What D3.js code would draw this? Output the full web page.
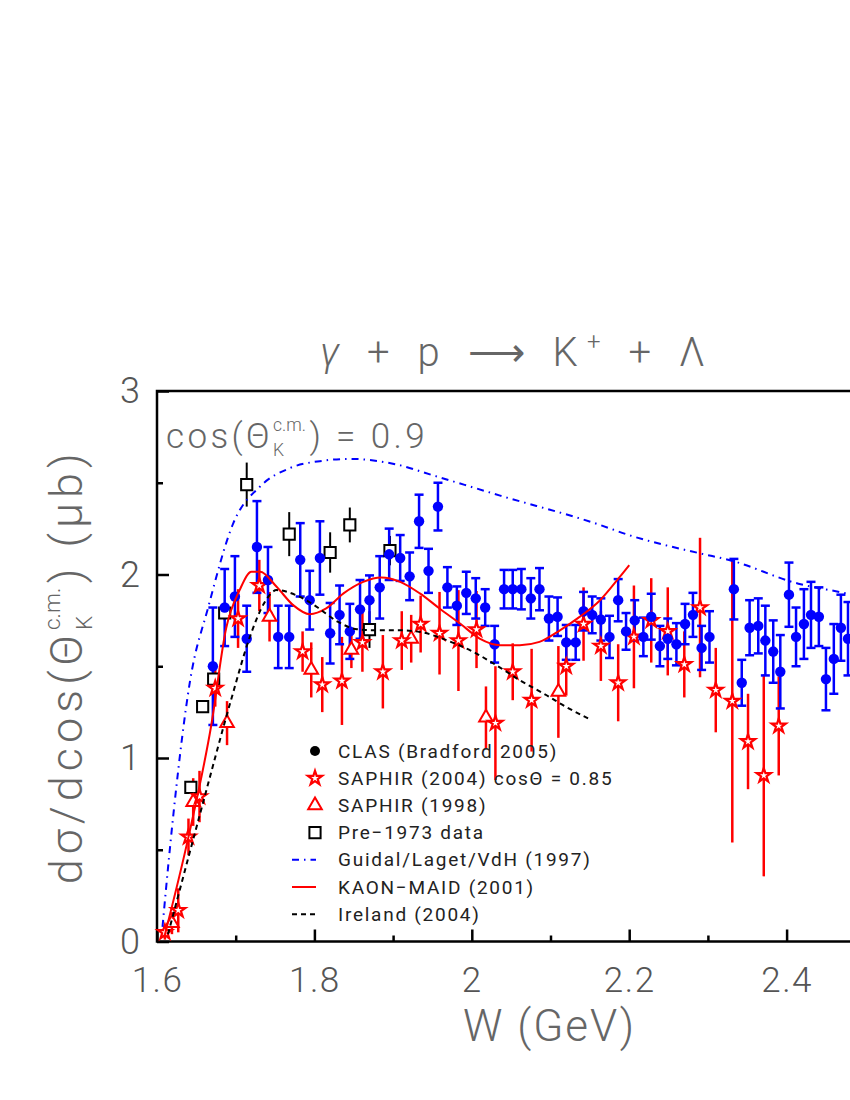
<!DOCTYPE html>
<html>
<head>
<meta charset="utf-8">
<script src="https://cdn.jsdelivr.net/npm/d3@7"></script>
<style>
  body { margin: 0; background: #fff; }
  svg { display: block; font-family: Roboto, "DejaVu Sans", sans-serif; font-weight: 300; }
  .lbl { fill: #666; }
  .tick text { fill: #555; font-family: Roboto, "DejaVu Sans", sans-serif; font-weight: 300; }
  .leg { fill: #222; font-size: 19px; font-weight: 400; }
</style>
</head>
<body>
<svg id="chart" width="850" height="1100"></svg>
<script>
// CLAS (Bradford 2005)
const clasW = [1.671, 1.686, 1.699, 1.714, 1.727, 1.741, 1.754, 1.768, 1.782, 1.794, 1.807, 1.820, 1.832, 1.845, 1.858, 1.870, 1.883, 1.895,
  1.909, 1.921, 1.933, 1.945, 1.957, 1.969, 1.981, 1.993, 2.005, 2.017, 2.029, 2.041, 2.052, 2.063, 2.075, 2.086, 2.098, 2.109,
  2.120, 2.132, 2.142, 2.153, 2.164, 2.175, 2.186, 2.196, 2.207, 2.218, 2.228, 2.239, 2.249, 2.260, 2.271, 2.281, 2.292, 2.302,
  2.333, 2.343, 2.353, 2.364, 2.373, 2.383, 2.392, 2.403, 2.412, 2.422, 2.431, 2.441, 2.450, 2.460, 2.469, 2.478];
const clasV = [1.50, 1.82, 1.88, 1.65, 2.15, 1.97, 1.66, 1.66, 2.08, 1.86, 2.09, 1.68, 1.78, 1.69, 1.81, 1.86, 1.93, 2.11,
  2.09, 1.99, 2.29, 2.02, 2.37, 1.93, 1.83, 1.90, 1.87, 1.82, 1.62, 1.92, 1.92, 1.92, 1.87, 1.92, 1.76, 1.77,
  1.63, 1.63, 1.80, 1.78, 1.755, 1.66, 1.86, 1.69, 1.75, 1.66, 1.77, 1.61, 1.65, 1.62, 1.73, 1.78, 1.60, 1.66,
  1.92, 1.41, 1.71, 1.72, 1.64, 1.58, 1.47, 1.89, 1.66, 1.73, 1.78, 1.77, 1.43, 1.54, 1.71, 1.65];
const clasE = [0.32, 0.21, 0.22, 0.18, 0.25, 0.18, 0.17, 0.17, 0.20, 0.16, 0.20, 0.165, 0.16, 0.15, 0.16, 0.135, 0.17, 0.14,
  0.125, 0.13, 0.145, 0.12, 0.13, 0.11, 0.105, 0.115, 0.11, 0.10, 0.10, 0.105, 0.105, 0.11, 0.11, 0.115, 0.12, 0.105,
  0.095, 0.095, 0.105, 0.10, 0.115, 0.115, 0.115, 0.10, 0.11, 0.105, 0.125, 0.11, 0.11, 0.115, 0.11, 0.12, 0.12, 0.14,
  0.165, 0.125, 0.15, 0.15, 0.19, 0.17, 0.20, 0.175, 0.16, 0.19, 0.18, 0.16, 0.17, 0.19, 0.18, 0.20];

// SAPHIR (2004) cos = 0.85
const saph04W = [1.610, 1.627, 1.640, 1.654, 1.674, 1.703, 1.730, 1.785, 1.810, 1.835, 1.861, 1.887, 1.911, 1.935, 1.959, 1.983,
  2.006, 2.030, 2.052, 2.076, 2.120, 2.142, 2.164, 2.186, 2.206, 2.228, 2.249, 2.270, 2.290, 2.310, 2.331, 2.351, 2.371, 2.390];
const saph04V = [0.05, 0.17, 0.57, 0.79, 1.38, 1.76, 1.94, 1.58, 1.40, 1.42, 1.63, 1.47, 1.64, 1.73, 1.68, 1.64,
  1.70, 1.19, 1.47, 1.315, 1.50, 1.73, 1.61, 1.41, 1.66, 1.75, 1.69, 1.51, 1.82, 1.37, 1.31, 1.09, 0.905, 1.175];
const saph04E = [0.04, 0.12, 0.10, 0.14, 0.10, 0.16, 0.14, 0.11, 0.15, 0.24, 0.16, 0.20, 0.16, 0.155, 0.225, 0.275,
  0.21, 0.31, 0.155, 0.28, 0.16, 0.20, 0.19, 0.21, 0.28, 0.23, 0.24, 0.18, 0.38, 0.23, 0.77, 0.26, 0.55, 0.27];

// SAPHIR (1998)
const saph98W = [1.619, 1.646, 1.689, 1.743, 1.796, 1.847, 1.923, 2.018, 2.110];
const saph98V = [0.10, 0.76, 1.19, 1.77, 1.48, 1.59, 1.65, 1.22, 1.36];
const saph98E = [0.06, 0.13, 0.12, 0.135, 0.15, 0.10, 0.13, 0.17, 0.25];

// Pre-1973 data
const oldW = [1.643, 1.658, 1.672, 1.686, 1.714, 1.768, 1.820, 1.845, 1.870, 1.896];
const oldV = [0.84, 1.28, 1.43, 1.79, 2.49, 2.22, 2.12, 2.27, 1.70, 2.13];
const oldE = [0.03, 0.03, 0.04, 0.04, 0.12, 0.12, 0.11, 0.095, 0.10, 0.08];

// model curves
const guidalW = [1.607, 1.610, 1.621, 1.642, 1.665, 1.697, 1.731, 1.769, 1.811, 1.845, 1.904, 1.951, 2.036, 2.163, 2.196, 2.290, 2.328, 2.415, 2.467, 2.52, 2.6];
const guidalV = [0.08, 0.22, 0.70, 1.42, 1.82, 2.28, 2.48, 2.58, 2.62, 2.63, 2.60, 2.54, 2.43, 2.27, 2.22, 2.115, 2.078, 1.95, 1.905, 1.86, 1.80];
const maidW = [1.609, 1.640, 1.669, 1.688, 1.705, 1.720, 1.731, 1.752, 1.773, 1.794, 1.815, 1.837, 1.862, 1.885, 1.909, 1.934,
  1.959, 1.985, 2.010, 2.036, 2.061, 2.086, 2.112, 2.137, 2.163, 2.188, 2.200];
const maidV = [0.02, 0.57, 1.18, 1.71, 1.915, 2.015, 2.015, 1.933, 1.833, 1.784, 1.815, 1.897, 1.96, 1.984, 1.96, 1.897,
  1.815, 1.733, 1.651, 1.615, 1.615, 1.633, 1.696, 1.769, 1.86, 1.987, 2.051];
const irelandW = [1.614, 1.655, 1.695, 1.718, 1.737, 1.752, 1.777, 1.803, 1.828, 1.854, 1.879, 1.906, 1.934, 1.968, 2.002, 2.031,
  2.061, 2.095, 2.120, 2.148];
const irelandV = [0.04, 0.70, 1.33, 1.66, 1.85, 1.915, 1.887, 1.824, 1.747, 1.702, 1.696, 1.696, 1.687, 1.642, 1.578, 1.506,
  1.424, 1.342, 1.278, 1.215];

const legendLabels = ["CLAS (Bradford 2005)", "SAPHIR (2004) cos\u0398 = 0.85", "SAPHIR (1998)", "Pre\u22121973 data",
  "Guidal/Laget/VdH (1997)", "KAON\u2212MAID (2001)", "Ireland (2004)"];

const BLUE = "#0000ff", RED = "#ff0000";
const svg = d3.select("#chart");

const x = d3.scaleLinear().domain([1.6, 2.6]).range([157, 944]);
const y = d3.scaleLinear().domain([0, 3]).range([941.5, 391]);

const zip = (W, V, E) => W.map((w, i) => ({ w, v: V[i], e: E ? E[i] : 0 }));

// axes, ticks point inward
const xMajor = [1.6, 1.8, 2, 2.2, 2.4];
const xMinor = d3.range(1.7, 2.6, 0.2);
const yMajor = [0, 1, 2, 3];
const yMinor = [0.5, 1.5, 2.5];

svg.append("g").attr("transform", `translate(0,${y(0)})`)
  .call(d3.axisBottom(x).tickValues(xMajor).tickSize(-12).tickPadding(26).tickFormat(d3.format("")))
  .call(g => g.select(".domain").remove())
  .call(g => g.selectAll("line").attr("stroke", "#000").attr("stroke-width", 2.5))
  .call(g => g.selectAll("text").style("font-size", "35px").attr("letter-spacing", 1.5));
svg.append("g").attr("transform", `translate(0,${y(0)})`)
  .call(d3.axisBottom(x).tickValues(xMinor).tickSize(-6).tickFormat(""))
  .call(g => g.select(".domain").remove())
  .call(g => g.selectAll("line").attr("stroke", "#000").attr("stroke-width", 2.5));
svg.append("g").attr("transform", `translate(${x(1.6)},0)`)
  .call(d3.axisLeft(y).tickValues(yMajor).tickSize(-12).tickPadding(17).tickFormat(d3.format("")))
  .call(g => g.select(".domain").remove())
  .call(g => g.selectAll("line").attr("stroke", "#000").attr("stroke-width", 2.5))
  .call(g => g.selectAll("text").style("font-size", "36px"));
svg.append("g").attr("transform", `translate(${x(1.6)},0)`)
  .call(d3.axisLeft(y).tickValues(yMinor).tickSize(-6).tickFormat(""))
  .call(g => g.select(".domain").remove())
  .call(g => g.selectAll("line").attr("stroke", "#000").attr("stroke-width", 2.5));

svg.append("rect")
  .attr("x", x(1.6)).attr("y", y(3))
  .attr("width", x(2.6) - x(1.6)).attr("height", y(0) - y(3))
  .attr("fill", "none").attr("stroke", "#000").attr("stroke-width", 2.5);

// data
const plot = svg.append("g");

function errBars(data, color, cap, width) {
  const g = plot.append("g").attr("stroke", color).attr("stroke-width", width);
  g.selectAll("line.v").data(data).join("line").attr("class", "v")
    .attr("x1", d => x(d.w)).attr("x2", d => x(d.w))
    .attr("y1", d => y(d.v + d.e)).attr("y2", d => y(Math.max(0, d.v - d.e)));
  if (cap) {
    [1, -1].forEach(s => {
      g.selectAll("line.c" + s).data(data).join("line").attr("class", "c" + s)
        .attr("x1", d => x(d.w) - cap).attr("x2", d => x(d.w) + cap)
        .attr("y1", d => y(d.v + s * d.e)).attr("y2", d => y(d.v + s * d.e));
    });
  }
}

const clas = zip(clasW, clasV, clasE);
const saph04 = zip(saph04W, saph04V, saph04E);
const saph98 = zip(saph98W, saph98V, saph98E);
const old = zip(oldW, oldV, oldE);

errBars(old, "#000", 0, 2);
errBars(saph98, RED, 0, 2.5);
errBars(saph04, RED, 0, 2.5);
errBars(clas, BLUE, 4.5, 2.5);

const starPath = d3.symbol(d3.symbolStar, 62)();
const triPath = d3.symbol(d3.symbolTriangle, 80)();
const sqPath = d3.symbol(d3.symbolSquare, 125)();

plot.append("g").selectAll("path").data(old).join("path")
  .attr("d", sqPath).attr("transform", d => `translate(${x(d.w)},${y(d.v)})`)
  .attr("fill", "#fff").attr("stroke", "#000").attr("stroke-width", 2);
plot.append("g").selectAll("path").data(saph98).join("path")
  .attr("d", triPath).attr("transform", d => `translate(${x(d.w)},${y(d.v)})`)
  .attr("fill", "#fff").attr("stroke", RED).attr("stroke-width", 2);
plot.append("g").selectAll("path").data(saph04).join("path")
  .attr("d", starPath).attr("transform", d => `translate(${x(d.w)},${y(d.v)})`)
  .attr("fill", "#fff").attr("stroke", RED).attr("stroke-width", 2.2);
plot.append("g").selectAll("circle").data(clas).join("circle")
  .attr("cx", d => x(d.w)).attr("cy", d => y(d.v)).attr("r", 5.2).attr("fill", BLUE);

// curves
const line = d3.line().x(d => x(d.w)).y(d => y(d.v)).curve(d3.curveMonotoneX);
const curves = [
  { W: guidalW, V: guidalV, color: BLUE, dash: "7,5,1.5,5" },
  { W: maidW, V: maidV, color: RED, dash: null },
  { W: irelandW, V: irelandV, color: "#000", dash: "5,4" }
];
curves.forEach(c => {
  plot.append("path").datum(zip(c.W, c.V))
    .attr("d", line).attr("fill", "none")
    .attr("stroke", c.color).attr("stroke-width", 2)
    .attr("stroke-dasharray", c.dash);
});

// legend
const legX = 315, legTx = 338, legY0 = 751, legDy = 27.2;
const leg = svg.append("g");
const ly = i => legY0 + i * legDy;
const legTexts = legendLabels.map((t, i) =>
  leg.append("text").attr("class", "leg").attr("x", legTx).attr("y", ly(i)).attr("dy", "0.35em").text(t));
// spread letters so the first label is as wide as in the picture
const ls0 = (220 - legTexts[0].node().getComputedTextLength()) / legendLabels[0].length;
legTexts.forEach(t => t.attr("letter-spacing", ls0));

leg.append("circle").attr("cx", legX).attr("cy", ly(0)).attr("r", 5).attr("fill", "#000");
leg.append("path").attr("d", starPath).attr("transform", `translate(${legX},${ly(1)})`)
  .attr("fill", "#fff").attr("stroke", RED).attr("stroke-width", 2.2);
leg.append("path").attr("d", triPath).attr("transform", `translate(${legX},${ly(2)})`)
  .attr("fill", "#fff").attr("stroke", RED).attr("stroke-width", 2);
leg.append("path").attr("d", sqPath).attr("transform", `translate(${legX},${ly(3)})`)
  .attr("fill", "#fff").attr("stroke", "#000").attr("stroke-width", 2);
curves.forEach((c, i) => {
  leg.append("line").attr("x1", 292).attr("x2", 316).attr("y1", ly(4 + i)).attr("y2", ly(4 + i))
    .attr("stroke", c.color).attr("stroke-width", 2).attr("stroke-dasharray", c.dash);
});

// rich text: runs of text, with stacked sub/superscript; stretched to a target width
function rich(g, parts, size, target) {
  let ls = 0, cx = 0;
  const build = () => {
    g.selectAll("*").remove();
    cx = 0;
    let n = 0;
    parts.forEach(p => {
      if (p.t !== undefined) {
        const t = g.append("text").attr("class", "lbl").attr("x", cx).attr("y", 0)
          .attr("letter-spacing", ls).style("font-size", size + "px").text(p.t);
        cx += t.node().getComputedTextLength();
        n += p.t.length;
      } else {
        const s = g.append("text").attr("class", "lbl").attr("x", cx).attr("y", -size * 0.5).style("font-size", size * 0.5 + "px").text(p.sup);
        const b = g.append("text").attr("class", "lbl").attr("x", cx).attr("y", size * 0.22).style("font-size", size * 0.5 + "px").text(p.sub);
        cx += Math.max(s.node().getComputedTextLength(), b.node().getComputedTextLength()) + size * 0.1;
      }
    });
    return n;
  };
  const n = build();
  if (target) { ls = (target - cx) / n; build(); }
  return cx;
}

// title
svg.append("text").attr("class", "lbl")
  .attr("x", 320).attr("y", 366)
  .attr("textLength", 385).attr("lengthAdjust", "spacing")
  .style("font-size", "40px")
  .call(t => {
    t.append("tspan").style("font-style", "italic").text("\u03b3");
    t.append("tspan").text(" + p \u27f6 K");
    t.append("tspan").attr("dy", -16).style("font-size", "24px").text("+");
    t.append("tspan").attr("dy", 16).text(" + \u039b");
  });

// annotation
const ann = svg.append("g").attr("transform", "translate(166,448)");
rich(ann, [{ t: "cos(\u0398" }, { sup: "c.m.", sub: "K" }, { t: ") = 0.9" }], 35, 262);

// y label
const yl = svg.append("g");
const ylw = rich(yl, [{ t: "d\u03c3/dcos(\u0398" }, { sup: "c.m.", sub: "K" }, { t: ") (\u03bcb)" }], 45, 436);
yl.attr("transform", `translate(82,${(y(0) + y(3)) / 2 + ylw / 2}) rotate(-90)`);

// x label
const xl = svg.append("g").attr("transform", "translate(463,1041)");
rich(xl, [{ t: "W (GeV)" }], 44, 173);
</script>
</body>
</html>
